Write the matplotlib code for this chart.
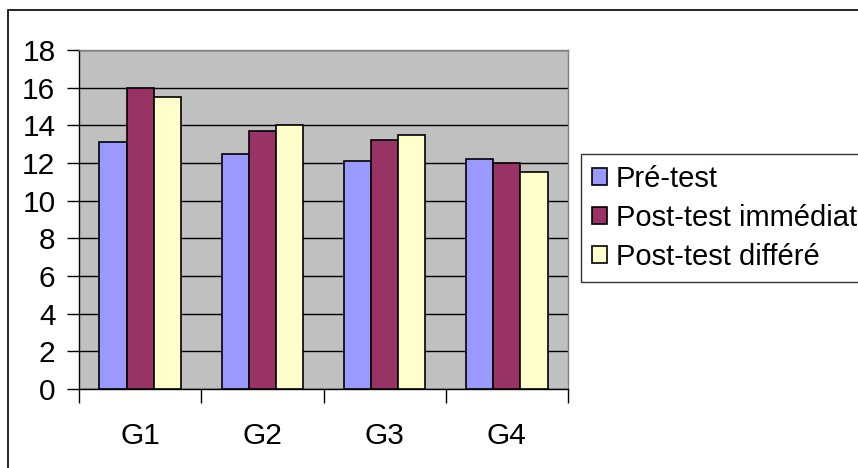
import numpy as np
import matplotlib
matplotlib.use("Agg")
import matplotlib.pyplot as plt
from matplotlib.patches import Rectangle

plt.rcParams['font.family'] = ['Liberation Sans', 'DejaVu Sans']

groups = ['G1', 'G2', 'G3', 'G4']
pre_test = [13.1, 12.5, 12.1, 12.2]
post_immediat = [16.0, 13.7, 13.2, 12.0]
post_differe = [15.5, 14.0, 13.5, 11.5]
series_names = ['Pré-test', 'Post-test immédiat', 'Post-test différé']
colors = ['#9999FF', '#993366', '#FFFFCC']

W, H = 858, 468
fig = plt.figure(figsize=(W / 100, H / 100), dpi=100)
ax = fig.add_axes([79 / W, 1 - 389 / H, (568 - 79) / W, (389 - 50) / H])
ax.set_facecolor('#C0C0C0')

x = np.arange(len(groups))
bw = 1 / 4.5
for i, (vals, c, name) in enumerate(zip([pre_test, post_immediat, post_differe], colors, series_names)):
    ax.bar(x + (i - 1) * bw, vals, bw, color=c, edgecolor='black', linewidth=1.2,
           label=name, zorder=3)

ax.set_xlim(-0.5, 3.5)
ax.set_ylim(0, 18)
ax.set_yticks(np.arange(0, 19, 2))
ax.yaxis.grid(True, color='black', linewidth=1.0, zorder=1)
ax.set_axisbelow(True)

# category ticks between groups, labels in the middle
ax.set_xticks(np.arange(-0.5, 4, 1))
ax.set_xticklabels([])
ax.set_xticks(x, minor=True)
ax.set_xticklabels(groups, minor=True)
ax.tick_params(axis='x', which='major', length=10, width=1, direction='out')
ax.tick_params(axis='x', which='minor', length=0, pad=24, labelsize=21.5)
ax.tick_params(axis='y', length=9, width=1, direction='out', pad=8, labelsize=21.5)

ax.spines['left'].set_color('black')
ax.spines['bottom'].set_color('black')
ax.spines['top'].set_color('#808080')
ax.spines['right'].set_color('#808080')
for s in ax.spines.values():
    s.set_linewidth(1.0)

leg = fig.legend(loc='upper left', bbox_to_anchor=(581 / W, 1 - 154 / H),
                 borderaxespad=0, fontsize=21, frameon=True, fancybox=False,
                 handlelength=0.52, handleheight=0.52, handletextpad=0.3,
                 labelspacing=0.38, borderpad=0.38)
leg.get_frame().set_edgecolor('black')
leg.get_frame().set_linewidth(1.0)

# outer chart border (cut by the image edge on the right and bottom)
fig.patches.append(Rectangle((8 / W, -0.1), 1.2, 1 - 10 / H + 0.1, transform=fig.transFigure,
                             fill=False, edgecolor='black', linewidth=1.2, clip_on=False))

fig.savefig('out.png', dpi=100)
